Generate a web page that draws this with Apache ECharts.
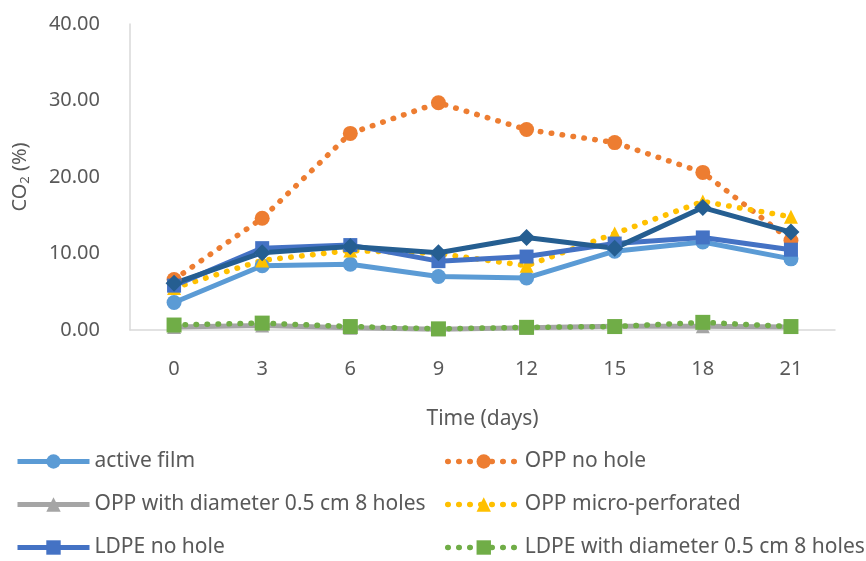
<!DOCTYPE html>
<html>
<head>
<meta charset="utf-8">
<script src="https://cdn.jsdelivr.net/npm/echarts@6/dist/echarts.min.js"></script>
<style>
  html, body { margin: 0; padding: 0; background: #ffffff; }
  #chart { width: 866px; height: 561px; }
</style>
</head>
<body>
<div id="chart"></div>
<script>
// Storage time in days
const days = ['0', '3', '6', '9', '12', '15', '18', '21'];

// CO2 concentration (%) per packaging type
const activeFilm      = [3.6, 8.4, 8.6, 7.0, 6.8, 10.3, 11.5, 9.3];
const oppNoHole       = [6.6, 14.6, 25.7, 29.7, 26.2, 24.5, 20.6, 11.7];
const oppHoles        = [0.4, 0.6, 0.3, 0.1, 0.3, 0.5, 0.5, 0.4];
const oppMicro        = [5.5, 9.1, 10.4, 10.0, 8.4, 12.6, 16.8, 14.8];
const ldpeNoHole      = [5.8, 10.7, 11.1, 9.0, 9.6, 11.3, 12.1, 10.5];
const ldpeHoles       = [0.65, 0.9, 0.45, 0.15, 0.35, 0.45, 1.0, 0.45];
const extraSeries     = [6.1, 10.1, 10.9, 10.1, 12.1, 10.7, 16.0, 12.8];

const yTicks = { min: 0, max: 40, interval: 10 };

const FONT = 'Noto Sans';
const TEXT = '#595959';
const AXIS = '#D9D9D9';

const dotted = (color) => ({ color: color, width: 5.5, type: [0.5, 10.5], cap: 'round' });
const solid = (color) => ({ color: color, width: 5 });

function lineSeries(name, data, color, symbol, size, lineStyle) {
  return {
    name: name,
    type: 'line',
    data: data,
    symbol: symbol,
    symbolSize: size,
    showSymbol: true,
    itemStyle: { color: color },
    lineStyle: lineStyle,
    emphasis: { disabled: true },
    animation: false
  };
}

function legendAt(name, left, top, dottedLine) {
  return {
    data: [name],
    left: left,
    top: top,
    padding: 0,
    itemWidth: 72,
    itemHeight: 18,
    itemGap: 0,
    selectedMode: false,
    lineStyle: dottedLine
      ? { width: 5.5, type: [0.5, 10.5], cap: 'round' }
      : { width: 5, type: 'solid' },
    textStyle: { fontFamily: FONT, fontSize: 21, color: TEXT }
  };
}

const chart = echarts.init(document.getElementById('chart'), null, { renderer: 'canvas' });

chart.setOption({
  backgroundColor: '#ffffff',
  animation: false,
  grid: { left: 130, right: 31, top: 24, bottom: 231, containLabel: false },
  legend: [
    legendAt('active film', 15, 451, false),
    legendAt('OPP no hole', 445, 451, true),
    legendAt('OPP with diameter 0.5 cm 8 holes', 15, 494, false),
    legendAt('OPP micro-perforated', 445, 494, true),
    legendAt('LDPE no hole', 15, 537, false),
    legendAt('LDPE with diameter 0.5 cm 8 holes', 445, 537, true)
  ],
  xAxis: {
    type: 'category',
    data: days,
    boundaryGap: true,
    name: 'Time (days)',
    nameLocation: 'middle',
    nameGap: 79,
    nameTextStyle: { fontFamily: FONT, fontSize: 21, color: TEXT },
    axisLine: { show: true, lineStyle: { color: AXIS, width: 1.5 } },
    axisTick: { show: false },
    axisLabel: { fontFamily: FONT, fontSize: 20, color: TEXT, margin: 29 },
    splitLine: { show: false }
  },
  yAxis: {
    type: 'value',
    min: yTicks.min,
    max: yTicks.max,
    interval: yTicks.interval,
    name: '{a|CO}{s|2}{a| (%)}',
    nameLocation: 'middle',
    nameGap: 98,
    nameRotate: 90,
    nameTextStyle: {
      rich: {
        a: { fontFamily: FONT, fontSize: 20, color: TEXT },
        s: { fontFamily: FONT, fontSize: 13, color: TEXT, padding: [10, 0, 0, 0] }
      }
    },
    axisLine: { show: true, lineStyle: { color: AXIS, width: 1.5 } },
    axisTick: { show: false },
    axisLabel: {
      fontFamily: FONT, fontSize: 20, color: TEXT, margin: 30,
      formatter: (v) => v.toFixed(2)
    },
    splitLine: { show: false }
  },
  series: [
    lineSeries('active film', activeFilm, '#5B9BD5', 'circle', 15, solid('#5B9BD5')),
    lineSeries('OPP no hole', oppNoHole, '#ED7D31', 'circle', 15, dotted('#ED7D31')),
    lineSeries('OPP with diameter 0.5 cm 8 holes', oppHoles, '#A5A5A5', 'triangle', 14, solid('#A5A5A5')),
    lineSeries('OPP micro-perforated', oppMicro, '#FFC000', 'triangle', 14, dotted('#FFC000')),
    lineSeries('LDPE no hole', ldpeNoHole, '#4472C4', 'rect', 14, solid('#4472C4')),
    lineSeries('LDPE with diameter 0.5 cm 8 holes', ldpeHoles, '#70AD47', 'rect', 15, dotted('#70AD47')),
    lineSeries('series7', extraSeries, '#255E91', 'diamond', 17, solid('#255E91'))
  ]
});
</script>
</body>
</html>
